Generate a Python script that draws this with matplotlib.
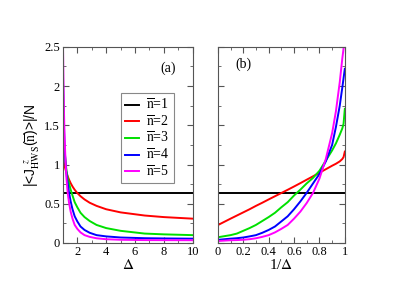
import numpy as np
import matplotlib
matplotlib.use("Agg")
import matplotlib.pyplot as plt
from matplotlib.ticker import MultipleLocator

plt.rcParams['font.family'] = ['Liberation Serif', 'DejaVu Serif']
plt.rcParams['mathtext.fontset'] = 'stix'

# values, x = 1/Delta
inv_delta = [0.0, 0.1, 0.125, 0.15, 0.2, 0.25, 0.3, 0.35, 0.4, 0.45, 0.5, 0.55,
             0.6, 0.65, 0.7, 0.75, 0.8, 0.85, 0.9, 0.93, 0.96, 0.98, 0.99, 1.0]
n1 = [0.637] * len(inv_delta)
n2 = [0.228, 0.31, 0.33, 0.35, 0.39, 0.43, 0.473, 0.513, 0.555, 0.596, 0.637, 0.678,
      0.72, 0.763, 0.807, 0.85, 0.895, 0.94, 0.985, 1.01, 1.04, 1.07, 1.095, 1.165]
n3 = [0.073, 0.10, 0.11, 0.12, 0.155, 0.19, 0.23, 0.28, 0.33, 0.385, 0.455, 0.52,
      0.605, 0.68, 0.76, 0.83, 0.92, 1.05, 1.18, 1.27, 1.38, 1.46, 1.52, 1.71]
n4 = [0.04, 0.055, 0.058, 0.061, 0.07, 0.084, 0.10, 0.13, 0.166, 0.21, 0.275, 0.34,
      0.43, 0.53, 0.64, 0.76, 0.88, 1.04, 1.25, 1.48, 1.75, 1.98, 2.1, 2.22]
n5 = [0.025, 0.035, 0.036, 0.037, 0.041, 0.048, 0.06, 0.078, 0.10, 0.135, 0.18, 0.23,
      0.31, 0.40, 0.51, 0.64, 0.82, 1.07, 1.4, 1.68, 2.05, 2.35, 2.48, 2.65]

series = [n1, n2, n3, n4, n5]
labels = [r'$\overline{\mathrm{n}}$=%d' % k for k in range(1, 6)]
colors = ['black', 'red', '#00e000', 'blue', 'magenta']

x = np.array(inv_delta)
mask = x > 0
delta = 1.0 / x[mask]

fig = plt.figure(figsize=(4.11, 2.91), dpi=100)
ax1 = fig.add_axes([0.153, 0.165, 0.316, 0.674])
ax2 = fig.add_axes([0.530, 0.165, 0.309, 0.674])

for s, lab, c in zip(series, labels, colors):
    y = np.array(s)
    ax1.plot(delta, y[mask], color=c, lw=1.4, label=lab)
    ax2.plot(x, y, color=c, lw=1.4)

ax1.set_xlim(1, 10)
ax2.set_xlim(0, 1)
for ax in (ax1, ax2):
    ax.set_ylim(0, 2.5)
    ax.yaxis.set_major_locator(MultipleLocator(0.5))
    ax.yaxis.set_minor_locator(MultipleLocator(0.25))
    ax.tick_params(which='both', direction='in', top=True, right=True,
                   labelsize=9, color='#555555', pad=2)
    ax.tick_params(which='major', length=4)
    ax.tick_params(which='minor', length=2)
    for sp in ax.spines.values():
        sp.set_color('#555555')

ax1.xaxis.set_major_locator(MultipleLocator(2))
ax1.xaxis.set_minor_locator(MultipleLocator(1))
ax1.set_yticks([0, 0.5, 1, 1.5, 2, 2.5])
ax1.set_yticklabels(['0', '0.5', '1', '1.5', '2', '2.5'])
ax2.xaxis.set_major_locator(MultipleLocator(0.2))
ax2.xaxis.set_minor_locator(MultipleLocator(0.1))
ax2.set_xticks([0, 0.2, 0.4, 0.6, 0.8, 1])
ax2.set_xticklabels(['0', '0.2', '0.4', '0.6', '0.8', '1'])
ax2.tick_params(labelleft=False)

ax1.set_xlabel(r'$\Delta$', fontsize=11, labelpad=0)
ax2.set_xlabel(r'1/$\Delta$', fontsize=11, labelpad=0)
ax1.set_ylabel(r'|<J$_{\mathrm{HWS}}^{\ \ z}$($\overline{\mathrm{n}}$)>|/N',
               fontsize=10, family=['Liberation Sans', 'DejaVu Sans'], labelpad=2)

ax1.text(0.81, 0.89, '(a)', transform=ax1.transAxes, ha='center', va='center', fontsize=10)
ax2.text(0.20, 0.91, '(b)', transform=ax2.transAxes, ha='center', va='center', fontsize=10)

leg = ax1.legend(loc='upper left', bbox_to_anchor=(0.45, 0.765), fontsize=10,
                 handlelength=1.0, handletextpad=0.5, labelspacing=0.1,
                 borderpad=0.3, fancybox=False, framealpha=1, borderaxespad=0)
leg.get_frame().set_edgecolor('#888888')
leg.get_frame().set_linewidth(0.8)

fig.savefig('out.png', dpi=100)
